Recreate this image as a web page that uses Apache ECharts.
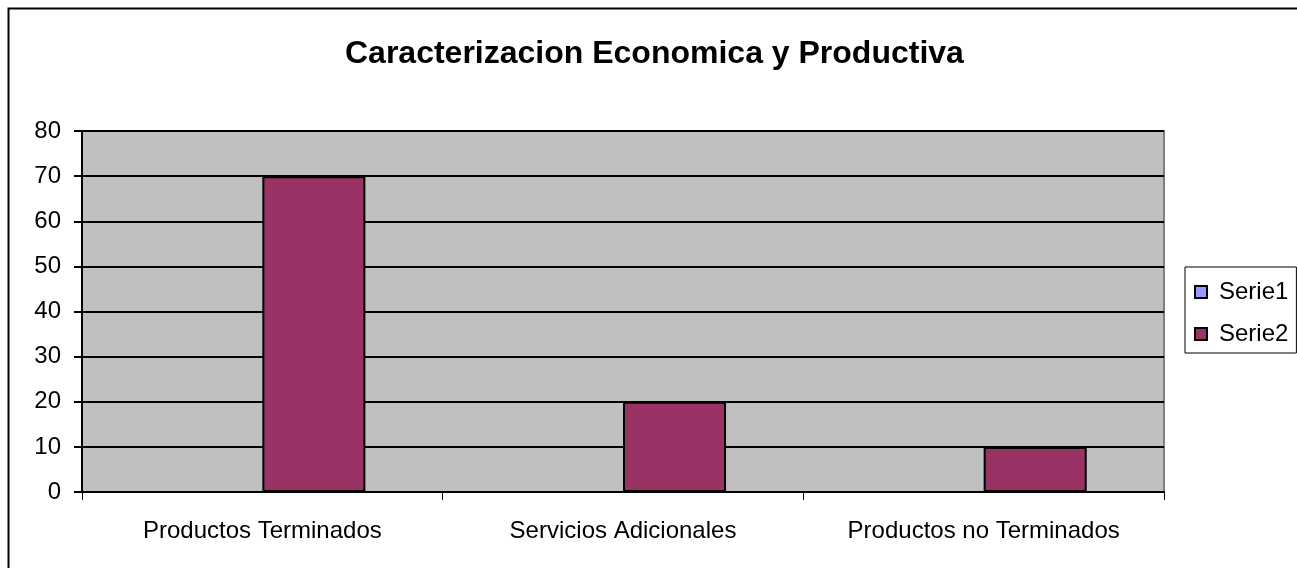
<!DOCTYPE html>
<html>
<head>
<meta charset="utf-8">
<script src="https://cdn.jsdelivr.net/npm/echarts@6/dist/echarts.min.js"></script>
<style>
html,body{margin:0;padding:0;background:#fff;}
#c{width:1297px;height:568px;}
</style>
</head>
<body>
<div id="c"></div>
<script>
const titleText = 'Caracterizacion Economica y Productiva';
const categories = ['Productos Terminados', 'Servicios Adicionales', 'Productos no Terminados'];
const serie1 = [0, 0, 0];
const serie2 = [70, 20, 10];
const seriesNames = ['Serie1', 'Serie2'];
const yMin = 0, yMax = 80, yInterval = 10;

const chart = echarts.init(document.getElementById('c'), null, {renderer: 'canvas'});
const font = 'Liberation Sans, Arial, sans-serif';
chart.setOption({
  animation: false,
  backgroundColor: '#ffffff',
  title: {
    text: titleText,
    left: 345,
    top: 38,
    padding: 0,
    textStyle: {fontFamily: font, fontSize: 32, fontWeight: 'bold', color: '#000'}
  },
  graphic: [{
    type: 'rect',
    shape: {x: 8.5, y: 8.5, width: 1300, height: 600},
    style: {fill: 'none', stroke: '#000', lineWidth: 2},
    silent: true,
    z: -1
  }],
  legend: {
    orient: 'vertical',
    left: 1185,
    top: 267,
    padding: [13, 8, 7, 9],
    borderColor: '#000',
    borderWidth: 1,
    itemWidth: 12,
    itemHeight: 12,
    itemGap: 18,
    icon: 'rect',
    textStyle: {fontFamily: font, fontSize: 24, color: '#000', lineHeight: 24, padding: [0, 0, 0, 7]},
    data: seriesNames
  },
  grid: {
    left: 82, right: 133, top: 131, bottom: 76,
    show: true,
    backgroundColor: '#C0C0C0',
    borderColor: '#808080',
    borderWidth: 2
  },
  xAxis: {
    type: 'category',
    data: categories,
    axisLine: {lineStyle: {color: '#000', width: 2}},
    axisTick: {show: true, length: 8, lineStyle: {color: '#000', width: 1}},
    axisLabel: {fontFamily: font, fontSize: 24, color: '#000', margin: 27},
    splitLine: {show: false}
  },
  yAxis: {
    type: 'value',
    min: yMin, max: yMax, interval: yInterval,
    axisLine: {show: true, lineStyle: {color: '#000', width: 2}},
    axisTick: {show: true, length: 8, lineStyle: {color: '#000', width: 2}},
    axisLabel: {fontFamily: font, fontSize: 24, color: '#000', margin: 21},
    splitLine: {show: true, lineStyle: {color: '#000', width: 2}}
  },
  series: [
    {
      name: seriesNames[0], type: 'bar', data: serie1,
      barGap: 0, barCategoryGap: '42.86%',
      itemStyle: {color: '#9999FF', borderColor: '#000', borderWidth: 1}
    },
    {
      name: seriesNames[1], type: 'bar', data: serie2,
      barGap: 0, barCategoryGap: '42.86%',
      itemStyle: {color: '#993366', borderColor: '#000', borderWidth: 2}
    }
  ]
});
</script>
</body>
</html>
